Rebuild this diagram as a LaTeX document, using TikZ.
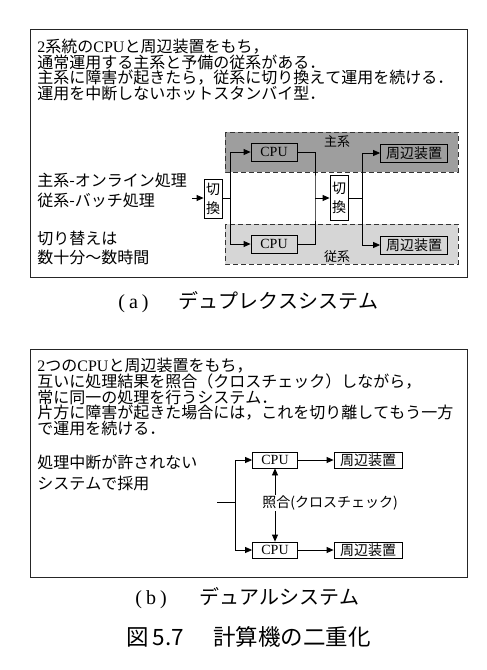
\documentclass[tikz,border=0pt]{standalone}
\usepackage{fontspec}
\setmainfont{Liberation Serif}
\newfontfamily\jp[Kerning=Off]{Noto Sans CJK JP}
\usetikzlibrary{arrows.meta}
\newcommand\lt[1]{{\rmfamily #1}}
\begin{document}
\begin{tikzpicture}[x=1pt,y=-1pt,
  line width=0.8pt,
  arr/.style={-{Triangle[length=7pt,width=6pt]}},
  arrb/.style={{Triangle[length=7pt,width=6pt]}-{Triangle[length=7pt,width=6pt]}},
  para/.style={anchor=north west,inner sep=0pt,align=left,font=\jp\fontsize{16}{14.9}\selectfont},
  frame/.style={draw=black!85,line width=0.9pt},
  blk/.style={draw,line width=0.8pt,inner sep=0pt,minimum height=18pt,font=\jp\fontsize{14}{14}\selectfont},
  sw/.style={draw,fill=white,line width=0.8pt,inner sep=0pt,minimum width=18pt,align=center,font=\jp\fontsize{14}{19}\selectfont},
  zone/.style={draw=black!80,dashed,dash pattern=on 5pt off 3pt,line width=0.8pt},
  captxt/.style={inner sep=0pt,anchor=west,font=\jp\fontsize{20}{20}\selectfont}]
\useasboundingbox (0,0) rectangle (487,670);
\fill[white] (0,0) rectangle (487,670);

% ---------- (a) ----------
\draw[frame] (30,29) rectangle (467,277);
\node[para] (ta) at (37,38.5) {\lt{2}系統の\lt{CPU}と周辺装置をもち，\\通常運用する主系と予備の従系がある．\\主系に障害が起きたら，従系に切り換えて運用を続ける．\\運用を中断しないホットスタンバイ型．};

\node[para,font=\jp\fontsize{16}{20}\selectfont] (tb) at (37,172.5) {主系-オンライン処理\\従系-バッチ処理};
\node[para,font=\jp\fontsize{16}{19}\selectfont] (tc) at (37,230.5) {切り替えは\\数十分～数時間};

\filldraw[zone,fill=black!38] (225,132) rectangle (458,172);
\filldraw[zone,fill=black!16] (225,224) rectangle (458,264);
\node[inner sep=0pt,font=\jp\fontsize{13}{13}\selectfont] (zm) at (337,142) {主系};
\node[inner sep=0pt,font=\jp\fontsize{13}{13}\selectfont] (zs) at (337,257) {従系};

\node[blk,minimum width=46pt,font=\rmfamily\fontsize{14}{14}\selectfont] (c1) at (274,152) {CPU};
\node[blk,minimum width=46pt,font=\rmfamily\fontsize{14}{14}\selectfont] (c2) at (274,244) {CPU};
\node[blk,minimum width=67pt] (p1) at (414,153) {周辺装置};
\node[blk,minimum width=67pt] (p2) at (414,245) {周辺装置};
\node[sw,minimum height=39pt] (s1) at (213,199) {切\\換};
\node[sw,minimum height=45pt] (s2) at (339,198) {切\\換};

\coordinate (in1) at (192,198);
\coordinate (j1) at (230,198);
\coordinate (j2) at (315,198);
\coordinate (j3) at (362,198);
\draw[arr] (in1) -- (in1 -| s1.west);
\draw (s1.east |- j1) -- (j1);
\draw[arr] (j1) |- (c1.west);
\draw[arr] (j1) |- (c2.west);
\draw (c1.east) -| (j2) |- (c2.east);
\draw[arr] (j2) -- (j2 -| s2.west);
\draw (s2.east |- j3) -- (j3);
\draw[arr] (j3) |- (p1.west);
\draw[arr] (j3) |- (p2.west);

\node[captxt] (capa) at (118,302) {\lt{(}\hspace{4pt}\lt{a}\hspace{4pt}\lt{)}\hspace{30pt}デュプレクスシステム};

% ---------- (b) ----------
\draw[frame] (30,349) rectangle (467,577);
\node[para] (td) at (37,357.5) {\lt{2}つの\lt{CPU}と周辺装置をもち，\\互いに処理結果を照合（クロスチェック）しながら，\\常に同一の処理を行うシステム．\\片方に障害が起きた場合には，これを切り離してもう一方\\で運用を続ける．};
\node[para,font=\jp\fontsize{16}{21}\selectfont] (te) at (37,454.5) {処理中断が許されない\\システムで採用};

\node[blk,minimum width=45pt,minimum height=16pt,font=\rmfamily\fontsize{14}{14}\selectfont] (d1) at (275,460) {CPU};
\node[blk,minimum width=45pt,minimum height=16pt,font=\rmfamily\fontsize{14}{14}\selectfont] (d2) at (275,550) {CPU};
\node[blk,minimum width=68pt,minimum height=16pt] (q1) at (368,460) {周辺装置};
\node[blk,minimum width=68pt,minimum height=16pt] (q2) at (368,550) {周辺装置};

\coordinate (in2) at (217,502);
\coordinate (j4) at (235,502);
\draw (in2) -- (j4);
\draw[arr] (j4) |- (d1.west);
\draw[arr] (j4) |- (d2.west);
\draw[arr] (d1) -- (q1);
\draw[arr] (d2) -- (q2);
\draw[arrb] (d1.south) -- (d2.north);
\node[fill=white,inner sep=1pt,font=\jp\fontsize{14}{14}\selectfont] (chk) at (330,503) {照合(クロスチェック)};

\node[captxt] (capb) at (135,598) {\lt{(}\hspace{4pt}\lt{b}\hspace{4pt}\lt{)}\hspace{33pt}デュアルシステム};

\node[captxt,font=\jp\fontsize{22.5}{22.5}\selectfont] (fig) at (126,637) {図\hspace{4pt}5.7\hspace{29pt}計算機の二重化};
\end{tikzpicture}
\end{document}
